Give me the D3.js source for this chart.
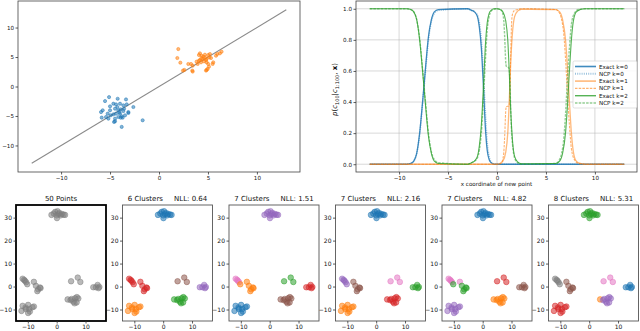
<!DOCTYPE html>
<html><head><meta charset="utf-8">
<script src="https://cdn.jsdelivr.net/npm/d3@7"></script>
<style>
html,body{margin:0;padding:0;background:#fff;}
svg{display:block;font-family:"DejaVu Sans",sans-serif;}
</style></head>
<body>
<script>
// ---------- Top-left scatter data ----------
const blueX = [-5.10,-4.22,-3.37,-5.51,-5.00,-4.66,-4.39,-3.98,-3.64,-3.30,-2.62,-5.92,-5.75,-5.00,-4.49,-4.15,-3.91,-3.64,-3.13,-5.85,-5.41,-5.17,-4.93,-4.66,-4.39,-3.98,-3.81,-3.47,-3.13,-4.15,-4.49,-3.91,-3.71,-4.59,-4.49,-3.81,-1.67,-5.24,-4.25,-4.05,-3.57];
const blueY = [-1.80,-2.08,-2.19,-2.47,-3.37,-2.92,-3.03,-2.92,-3.20,-3.03,-3.48,-4.33,-4.04,-4.04,-3.76,-4.04,-3.88,-4.16,-4.33,-5.28,-5.17,-5.45,-4.89,-4.72,-4.61,-4.61,-5.06,-4.89,-4.49,-5.17,-5.45,-5.28,-5.28,-6.01,-5.90,-6.85,-5.73,-4.61,-3.48,-4.38,-3.76];
const orangeX = [1.97,1.87,2.18,2.59,2.45,2.99,3.27,3.44,3.40,3.44,3.84,3.95,4.08,4.18,4.35,4.52,4.69,4.86,5.03,5.20,5.14,4.80,4.59,4.46,4.18,4.08,4.29,4.86,5.03,4.86,4.80,4.97,5.10,5.54,5.48,5.82,5.95,6.22,6.39,5.31,4.69,4.32];
const orangeY = [6.35,4.83,4.04,2.81,2.70,3.82,3.82,3.54,2.70,2.53,4.21,3.82,5.34,5.62,5.22,5.06,4.94,4.66,5.34,5.51,4.94,4.49,4.27,4.66,4.49,4.38,4.10,4.10,3.82,2.81,2.70,2.98,3.37,4.10,3.82,5.22,5.51,5.62,5.90,4.83,5.39,4.78];
const lineEnds = [-13, 13];

// ---------- Top-right curves data ----------
const exactX = [-13,-9.2,-8.8,-8.5,-8.2,-7.9,-7.6,-7.3,-7.0,-6.7,-6.4,-6.0,-3.0,-2.6,-2.3,-2.0,-1.8,-1.6,-1.4,-1.2,-1.0,-0.8,-0.6,-0.3,0.0,0.3,0.6,0.9,1.1,1.25,1.4,1.6,1.8,2.1,2.5,6.0,6.4,6.7,7.0,7.2,7.4,7.6,7.8,8.1,8.5,9.0,13];
const exactK0 = [0,0,0.005,0.02,0.07,0.2,0.4,0.62,0.82,0.93,0.98,0.995,1,0.99,0.98,0.95,0.88,0.75,0.52,0.25,0.09,0.03,0.01,0,0,0,0,0,0,0,0,0,0,0,0,0,0,0,0,0,0,0,0,0,0,0,0];
const exactK1 = [0,0,0,0,0,0,0,0,0,0,0,0,0,0,0,0,0,0,0,0,0,0,0,0,0,0.005,0.02,0.08,0.2,0.4,0.65,0.86,0.95,0.985,0.997,0.995,0.98,0.93,0.8,0.62,0.4,0.2,0.08,0.02,0.005,0,0];
const exactK2 = [1,1,0.995,0.98,0.93,0.8,0.6,0.38,0.18,0.07,0.02,0.005,0,0.01,0.02,0.05,0.12,0.25,0.48,0.75,0.91,0.97,0.99,1,1,0.995,0.98,0.92,0.8,0.6,0.35,0.14,0.05,0.015,0.003,0.005,0.02,0.07,0.2,0.38,0.6,0.8,0.92,0.98,0.995,1,1];
const ncpX = [-13,-9.2,-8.8,-8.5,-8.2,-7.9,-7.6,-7.3,-7.0,-6.7,-6.4,-6.0,-3.0,-2.6,-2.3,-2.0,-1.8,-1.6,-1.4,-1.2,-1.0,-0.8,-0.6,-0.3,0.0,0.4,0.65,0.8,0.88,0.95,1.2,1.3,1.4,1.5,1.6,1.8,2.1,2.5,6.0,6.3,6.6,6.8,7.0,7.2,7.4,7.6,7.9,8.3,9.0,13];
const ncpK0 = [0,0,0.005,0.02,0.07,0.19,0.39,0.6,0.8,0.92,0.97,0.99,1,0.99,0.98,0.96,0.91,0.8,0.6,0.35,0.14,0.05,0.015,0.003,0,0,0,0,0,0,0,0,0,0,0,0,0,0,0,0,0,0,0,0,0,0,0,0,0,0];
const ncpK1 = [0,0,0,0,0,0,0,0,0,0,0,0,0,0,0,0,0,0,0,0,0,0,0,0,0,0.005,0.05,0.2,0.33,0.37,0.375,0.42,0.7,0.92,0.97,0.99,0.995,1,0.995,0.98,0.93,0.85,0.68,0.45,0.25,0.1,0.03,0.005,0,0];
const ncpK2 = [1,1,0.995,0.98,0.93,0.81,0.61,0.4,0.2,0.08,0.03,0.01,0,0.01,0.02,0.04,0.09,0.2,0.4,0.65,0.86,0.95,0.985,0.997,1,0.995,0.95,0.8,0.67,0.63,0.62,0.57,0.35,0.2,0.12,0.04,0.01,0,0.005,0.02,0.07,0.15,0.32,0.55,0.75,0.9,0.97,0.995,1,1];
const legendLabels = ["Exact k=0","NCP k=0","Exact k=1","NCP k=1","Exact k=2","NCP k=2"];
const probTicks = [0.0,0.2,0.4,0.6,0.8,1.0];

// ---------- Bottom clustering data ----------
const ptX = [-1.8,-1.0,-0.5,0.0,0.3,0.6,1.0,1.4,1.8,2.4,2.9,0.1,
  -11.8,-11.3,-11.0,-10.6,-10.2,
  -7.9,-7.2,-6.4,-5.8,-6.7,-5.6,
  -12.2,-11.8,-10.8,-9.9,-9.5,-9.9,-8.4,-7.9,-10.7,-9.3,
  5.0,7.3,8.2,
  3.8,4.8,5.8,6.4,7.0,7.5,6.2,6.9,5.2,
  12.7,13.6,14.2,14.5,14.8];
const ptY = [31.2,31.8,32.5,31.0,32.8,31.5,32.0,31.0,31.6,31.3,31.2,29.8,
  3.4,2.9,2.5,1.9,1.0,
  2.05,0.3,-1.2,-0.4,-2.0,-0.7,
  -10.6,-8.4,-9.1,-8.0,-9.8,-11.5,-9.0,-8.7,-9.8,-10.9,
  2.3,3.9,2.0,
  -5.6,-5.9,-6.6,-5.1,-4.6,-5.2,-7.3,-6.9,-5.4,
  -0.3,-0.3,0.7,-0.7,-0.2];
const panelTitles = ["50 Points","6 Clusters","7 Clusters","7 Clusters","7 Clusters","8 Clusters"];
const panelNLL = [null,"0.64","1.51","2.16","4.82","5.31"];
const labels1 = [7,7,7,7,7,7,7,7,7,7,7,7, 7,7,7,7,7, 7,7,7,7,7,7, 7,7,7,7,7,7,7,7,7,7, 7,7,7, 7,7,7,7,7,7,7,7,7, 7,7,7,7,7];
const labels2 = [0,0,0,0,0,0,0,0,0,0,0,0, 3,3,3,3,3, 3,3,3,3,3,3, 1,1,1,1,1,1,1,1,1,1, 5,5,5, 2,2,2,2,2,2,2,2,2, 4,4,4,4,4];
const labels3 = [4,4,4,4,4,4,4,4,4,4,4,4, 6,6,6,6,1, 1,1,1,1,1,1, 0,0,0,0,0,0,0,0,0,0, 2,2,2, 5,5,5,5,5,5,5,5,5, 3,3,3,3,3];
const labels4 = [0,0,0,0,0,0,0,0,0,0,0,0, 4,4,4,4,4, 5,5,5,5,5,5, 1,1,1,1,1,1,1,1,1,1, 6,6,6, 3,3,3,3,3,3,3,3,3, 2,2,2,2,2];
const labels5 = [0,0,0,0,0,0,0,0,0,0,0,0, 6,6,6,6,2, 6,2,2,2,2,2, 4,4,4,4,4,4,4,4,4,4, 3,3,3, 1,1,1,1,1,1,1,1,1, 5,5,5,5,5];
const labels6 = [2,2,2,2,2,2,2,2,2,2,2,2, 7,7,7,7,7, 5,5,5,5,5,5, 3,3,3,3,3,3,3,3,3,3, 6,6,6, 1,4,4,4,4,4,4,4,4, 0,0,0,0,0];
const allLabels = [labels1,labels2,labels3,labels4,labels5,labels6];
const panelXTicks = [-10,0,10];
const panelYTicks = [-10,0,10,20,30];

const tab10 = ["#1f77b4","#ff7f0e","#2ca02c","#d62728","#9467bd","#8c564b","#e377c2","#7f7f7f"];

const W = 640, H = 331;
const svg = d3.select("body").append("svg").attr("width",W).attr("height",H);
const fmt = d3.format("");
function styleAxis(g, fs){
  g.select(".domain").remove();
  g.selectAll(".tick line").attr("stroke","#333").attr("stroke-width",0.8);
  g.selectAll(".tick text").attr("fill","#111").style("font-size",fs+"px").style("font-family","DejaVu Sans");
}

// ===== Top-left =====
{
  const L=18,R=300,T=1,B=172;
  const x=d3.scaleLinear().domain([-14.4,14.4]).range([L,R]);
  const y=d3.scaleLinear().domain([-14.5,14.5]).range([B,T]);
  const g=svg.append("g");
  g.append("line").attr("x1",x(lineEnds[0])).attr("y1",y(lineEnds[0])).attr("x2",x(lineEnds[1])).attr("y2",y(lineEnds[1]))
    .attr("stroke","#8a8a8a").attr("stroke-width",1.1);
  const bd=blueX.map((v,i)=>[v,blueY[i]]), od=orangeX.map((v,i)=>[v,orangeY[i]]);
  g.selectAll("circle.b").data(bd).join("circle").attr("cx",d=>x(d[0])).attr("cy",d=>y(d[1])).attr("r",1.6)
    .attr("fill",tab10[0]).attr("fill-opacity",0.55).attr("stroke",tab10[0]).attr("stroke-width",0.5);
  g.selectAll("circle.o").data(od).join("circle").attr("cx",d=>x(d[0])).attr("cy",d=>y(d[1])).attr("r",1.6)
    .attr("fill",tab10[1]).attr("fill-opacity",0.55).attr("stroke",tab10[1]).attr("stroke-width",0.5);
  g.append("rect").attr("x",L).attr("y",T).attr("width",R-L).attr("height",B-T).attr("fill","none").attr("stroke","#444").attr("stroke-width",0.8);
  const ax=g.append("g").attr("transform",`translate(0,${B})`).call(d3.axisBottom(x).tickValues([-10,-5,0,5,10]).tickSize(2.5).tickPadding(1.5).tickFormat(fmt));
  styleAxis(ax,5.6);
  const ay=g.append("g").attr("transform",`translate(${L},0)`).call(d3.axisLeft(y).tickValues([-10,-5,0,5,10]).tickSize(2.5).tickPadding(1.5).tickFormat(fmt));
  styleAxis(ay,5.6);
}

// ===== Top-right =====
{
  const L=356,R=637,T=1,B=172;
  const x=d3.scaleLinear().domain([-14.4,14.3]).range([L,R]);
  const y=d3.scaleLinear().domain([-0.05,1.05]).range([B,T]);
  const g=svg.append("g");
  g.selectAll("line.gx").data([-10,-5,0,5,10]).join("line").attr("x1",d=>x(d)).attr("x2",d=>x(d)).attr("y1",T).attr("y2",B)
    .attr("stroke","#b0b0b0").attr("stroke-width",0.7).attr("stroke-opacity",0.7);
  g.selectAll("line.gy").data(probTicks).join("line").attr("y1",d=>y(d)).attr("y2",d=>y(d)).attr("x1",L).attr("x2",R)
    .attr("stroke","#b0b0b0").attr("stroke-width",0.7).attr("stroke-opacity",0.7);
  const series=[
    {xs:exactX, ys:exactK0, c:tab10[0], dash:null, op:0.85, w:1.3},
    {xs:ncpX, ys:ncpK0, c:tab10[0], dash:"1,1.2", op:0.45, w:1.6},
    {xs:exactX, ys:exactK1, c:tab10[1], dash:null, op:0.55, w:1.3},
    {xs:ncpX, ys:ncpK1, c:tab10[1], dash:"2.5,1.2", op:0.6, w:1.1},
    {xs:exactX, ys:exactK2, c:tab10[2], dash:null, op:0.8, w:1.1},
    {xs:ncpX, ys:ncpK2, c:tab10[2], dash:"2.5,1.2", op:0.5, w:1.4}
  ];
  const line=d3.line().x(d=>x(d[0])).y(d=>y(d[1])).curve(d3.curveMonotoneX);
  series.forEach(s=>{
    g.append("path").datum(s.xs.map((v,i)=>[v,s.ys[i]])).attr("d",line).attr("fill","none")
      .attr("stroke",s.c).attr("stroke-opacity",s.op).attr("stroke-width",s.w).attr("stroke-dasharray",s.dash);
  });
  g.append("rect").attr("x",L).attr("y",T).attr("width",R-L).attr("height",B-T).attr("fill","none").attr("stroke","#444").attr("stroke-width",0.8);
  const ax=g.append("g").attr("transform",`translate(0,${B})`).call(d3.axisBottom(x).tickValues([-10,-5,0,5,10]).tickSize(2.5).tickPadding(1.5).tickFormat(fmt));
  styleAxis(ax,5.6);
  const ay=g.append("g").attr("transform",`translate(${L},0)`).call(d3.axisLeft(y).tickValues(probTicks).tickSize(2.5).tickPadding(1.5).tickFormat(d3.format(".1f")));
  styleAxis(ay,5.6);
  g.append("text").attr("x",(L+R)/2).attr("y",186).attr("text-anchor","middle").style("font-size","5.6px").attr("fill","#111").text("x coordinate of new point");
  const yl=g.append("text").attr("transform",`translate(337,${(T+B)/2+3}) rotate(-90)`).attr("text-anchor","middle").style("font-size","7px").attr("fill","#111");
  yl.append("tspan").style("font-style","italic").text("p");
  yl.append("tspan").text("(");
  yl.append("tspan").style("font-style","italic").text("c");
  yl.append("tspan").attr("dy",1.6).style("font-size","5px").text("100");
  yl.append("tspan").attr("dy",-1.6).text("|");
  yl.append("tspan").style("font-style","italic").text("c");
  yl.append("tspan").attr("dy",1.6).style("font-size","5px").text("1:100");
  yl.append("tspan").attr("dy",-1.6).text(", ");
  yl.append("tspan").style("font-weight","bold").text("x");
  yl.append("tspan").text(")");
  const lx=573, ly=61, lw=64, lh=47;
  const lg=g.append("g");
  lg.append("rect").attr("x",lx).attr("y",ly).attr("width",lw).attr("height",lh).attr("rx",1.5)
    .attr("fill","#fff").attr("fill-opacity",0.85).attr("stroke","#ccc").attr("stroke-width",0.6);
  legendLabels.forEach((lab,i)=>{
    const s=series[i], yy=ly+5.5+i*7.3;
    lg.append("line").attr("x1",lx+2).attr("x2",lx+23).attr("y1",yy).attr("y2",yy)
      .attr("stroke",s.c).attr("stroke-opacity",s.op).attr("stroke-width",s.w+0.3).attr("stroke-dasharray",s.dash);
    lg.append("text").attr("x",lx+26).attr("y",yy+2).style("font-size","5.6px").attr("fill","#111").text(lab);
  });
}

// ===== Bottom panels =====
const lefts=[16,122.5,229,335.5,442,548.5];
allLabels.forEach((labs,p)=>{
  const L=lefts[p], R=L+90, T=205, B=321;
  const x=d3.scaleLinear().domain([-14.1,17.1]).range([L,R]);
  const y=d3.scaleLinear().domain([-15,35.5]).range([B,T]);
  const g=svg.append("g");
  const pts=ptX.map((v,i)=>({x:v,y:ptY[i],c:tab10[labs[i]]}));
  g.selectAll("circle").data(pts).join("circle").attr("cx",d=>x(d.x)).attr("cy",d=>y(d.y)).attr("r",2.8)
    .attr("fill",d=>d.c).attr("fill-opacity",0.55).attr("stroke",d=>d.c).attr("stroke-opacity",0.8).attr("stroke-width",0.6);
  g.append("rect").attr("x",L).attr("y",T).attr("width",R-L).attr("height",B-T).attr("fill","none")
    .attr("stroke",p===0?"#000":"#555").attr("stroke-width",p===0?1.8:0.9);
  const ax=g.append("g").attr("transform",`translate(0,${B})`).call(d3.axisBottom(x).tickValues(panelXTicks).tickSize(2.5).tickPadding(1.5).tickFormat(fmt));
  styleAxis(ax,6);
  const ay=g.append("g").attr("transform",`translate(${L},0)`).call(d3.axisLeft(y).tickValues(panelYTicks).tickSize(2.5).tickPadding(1.5).tickFormat(fmt));
  styleAxis(ay,6);
  const t=g.append("text").attr("x",(L+R)/2).attr("y",201).attr("text-anchor","middle").style("font-size","7px").attr("fill","#111")
    .attr("xml:space","preserve").style("white-space","pre");
  t.text(panelNLL[p]===null ? panelTitles[p] : panelTitles[p]+"     NLL: "+panelNLL[p]);
});
</script>
</body></html>
